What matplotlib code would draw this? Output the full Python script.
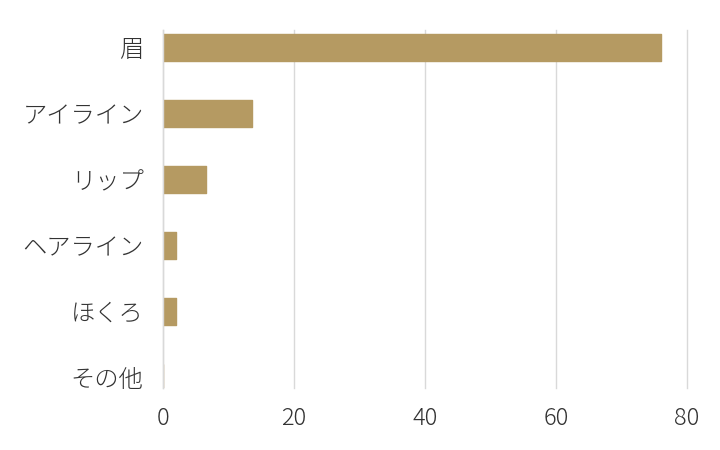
import matplotlib
matplotlib.use('Agg')
import matplotlib.pyplot as plt

# data
categories = ['眉', 'アイライン', 'リップ', 'ヘアライン', 'ほくろ', 'その他']
values = [76.0, 13.6, 6.6, 2.0, 2.0, 0.0]
x_ticks = [0, 20, 40, 60, 80]

plt.rcParams['font.family'] = ['Noto Sans CJK JP', 'DejaVu Sans']
plt.rcParams['font.weight'] = 'light'

bar_color = '#b59a62'
grid_color = '#d9d9d9'
text_color = '#333333'

fig = plt.figure(figsize=(7.2, 4.5), dpi=100)
ax = fig.add_axes([0.2264, 0.1378, 0.7278, 0.7955])

positions = list(range(len(categories)))
ax.barh(positions, values, height=0.41, color=bar_color, edgecolor=bar_color,
        linewidth=1.0, joinstyle='round', zorder=3)

ax.set_xlim(0, 80)
ax.set_ylim(5.16, -0.265)
ax.set_xticks(x_ticks)
ax.set_yticks(positions)
ax.set_yticklabels(categories)

ax.xaxis.grid(True, color=grid_color, linewidth=1.0, zorder=0)
for gl in ax.get_xgridlines():
    gl.set_clip_on(False)
ax.yaxis.grid(False)
for side in ['top', 'right', 'bottom']:
    ax.spines[side].set_visible(False)
ax.spines['left'].set_color(grid_color)
ax.spines['left'].set_linewidth(1.0)
ax.spines['left'].set_zorder(4)

ax.tick_params(axis='y', length=0, pad=14, labelsize=17.5, labelcolor=text_color)
ax.tick_params(axis='x', length=0, pad=13, labelsize=17, labelcolor=text_color)

fig.savefig('out.png', dpi=100)
